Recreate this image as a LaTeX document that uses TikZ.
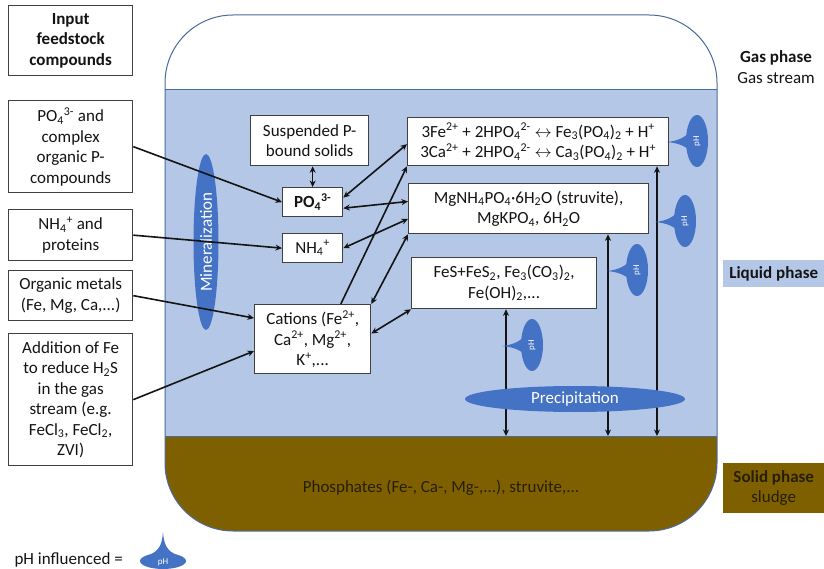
\documentclass[tikz,border=0pt]{standalone}
\usepackage{fontspec}
\setmainfont{Carlito}
\usetikzlibrary{arrows.meta,calc,shapes.geometric}

\definecolor{liquid}{HTML}{B4C7E7}
\definecolor{blob}{HTML}{4472C4}
\definecolor{sludge}{HTML}{7F6000}
\definecolor{rim}{HTML}{4A6A9C}
\definecolor{boxline}{HTML}{404040}
\definecolor{mud}{HTML}{262000}
\definecolor{ink}{HTML}{141414}

\newcommand{\bodyfont}{\fontsize{17}{20.5}\selectfont}
\newcommand{\up}[1]{\textsuperscript{#1}}
\newcommand{\dn}[1]{\textsubscript{#1}}

% pH marker: upright ellipse with a spike pointing left
\newcommand{\phleft}[3]{%
  \begin{scope}[shift={(#2,#3)}]
    \fill[blob] (-30,1) .. controls (-19,0) and (-10,-4) .. (-4,-13)
      -- (-4,13) .. controls (-10,5) and (-19,2) .. (-30,1) -- cycle;
    \fill[blob] (0,0) ellipse [x radius=11, y radius=26];
    \node[rotate=90, text=white, font=\fontsize{9}{10}\selectfont, inner sep=0pt] (#1) at (0,0) {pH};
  \end{scope}}

\tikzset{
  box/.style={draw=boxline, line width=1.3pt, fill=white, align=center,
    inner sep=2pt, anchor=north west, text=ink},
  arr/.style={draw=ink, line width=1.6pt, -{Stealth[length=6.5pt,width=6pt]}},
  dbl/.style={draw=ink, line width=1.6pt,
    {Stealth[length=6.5pt,width=6pt]}-{Stealth[length=6.5pt,width=6pt]}},
  blobnode/.style={ellipse, fill=blob, text=white, inner sep=0pt},
}

\begin{document}
\begin{tikzpicture}[x=1pt, y=-1pt, font=\bodyfont]
\useasboundingbox (0,0) rectangle (824,569);

% reactor vessel: gas, liquid and sludge layers
\begin{scope}
  \clip[rounded corners=68pt] (165,15) rectangle (717,531);
  \fill[white] (165,15) rectangle (717,90);
  \fill[liquid] (165,90) rectangle (717,436);
  \fill[sludge] (165,436) rectangle (717,531);
\end{scope}
\draw[rim, line width=1pt] (165,90) -- (717,90);
\draw[rim, line width=1pt] (165,436) -- (717,436);
\draw[rim, line width=1pt, rounded corners=68pt] (165,15) rectangle (717,531);

\node[text=mud] (sltxt) at (441,488) {Phosphates (Fe-, Ca-, Mg-,...), struvite,...};

% phase labels
\node[align=center, text=ink] (gaslab) at (776,67) {{\bfseries Gas phase}\\Gas stream};
\node[fill=liquid, minimum width=101, minimum height=27, anchor=north west,
  inner sep=0pt, text=ink, font=\bodyfont\bfseries] (liqlab) at (723,260) {Liquid phase};
\node[fill=sludge, minimum width=101, minimum height=50, anchor=north west,
  inner sep=0pt, align=center, text=mud] (sollab) at (723,463) {{\bfseries Solid phase}\\sludge};

% input feedstock column
\node[box, minimum width=124, minimum height=70, font=\bodyfont\bfseries] (feed) at (8,5) {Input\\feedstock\\compounds};
\node[box, minimum width=124, minimum height=92] (inP) at (8,100) {PO\dn{4}\up{3-} and\\complex\\organic P-\\compounds};
\node[box, minimum width=124, minimum height=51] (inN) at (8,209) {NH\dn{4}\up{+} and\\proteins};
\node[box, minimum width=124, minimum height=50] (inM) at (8,270) {Organic metals\\(Fe, Mg, Ca,...)};
\node[box, minimum width=124, minimum height=132] (inFe) at (8,333) {Addition of Fe\\to reduce H\dn{2}S\\in the gas\\stream (e.g.\\FeCl\dn{3}, FeCl\dn{2},\\ZVI)};

% mineralization band (behind the input arrows)
\node[blobnode, rotate=90, minimum width=176, minimum height=25] (minz) at (206,242) {Mineralization};

% species inside the liquid
\node[box, minimum width=118, minimum height=50] (susp) at (250,115) {Suspended P-\\bound solids};
\node[box, minimum width=60, minimum height=29, font=\bodyfont\bfseries] (po4) at (282,187) {PO\dn{4}\up{3-}};
\node[box, minimum width=60, minimum height=29] (nh4) at (282,233) {NH\dn{4}\up{+}};
\node[box, minimum width=116, minimum height=69] (cat) at (254,304) {Cations (Fe\up{2+},\\Ca\up{2+}, Mg\up{2+},\\K\up{+},...};
\node[box, minimum width=261, minimum height=48] (rxA) at (407,117)
  {3Fe\up{2+} + 2HPO\dn{4}\up{2-} $\leftrightarrow$ Fe\dn{3}(PO\dn{4})\dn{2} + H\up{+}\\
   3Ca\up{2+} + 2HPO\dn{4}\up{2-} $\leftrightarrow$ Ca\dn{3}(PO\dn{4})\dn{2} + H\up{+}};
\node[box, minimum width=240, minimum height=50] (struv) at (408,183)
  {MgNH\dn{4}PO\dn{4}\textperiodcentered 6H\dn{2}O (struvite),\\MgKPO\dn{4}, 6H\dn{2}O};
\node[box, minimum width=185, minimum height=51] (fes) at (411,257)
  {FeS+FeS\dn{2}, Fe\dn{3}(CO\dn{3})\dn{2},\\Fe(OH)\dn{2},...};

% inputs into the liquid
\draw[arr] (inP.east) -- (po4.west);
\draw[arr] (inN.east) -- (nh4.west);
\draw[arr] (inM.east) -- ($(cat.north west)!0.2!(cat.south west)$);
\draw[arr] (inFe.east) -- ($(cat.north west)!0.67!(cat.south west)$);

% exchanges between species
\draw[dbl] (po4.north) -- (po4.north |- susp.south);
\draw[dbl] ($(po4.north east)!0.35!(po4.south east)$) -- ($(rxA.north west)!0.55!(rxA.south west)$);
\draw[dbl] ($(po4.north east)!0.7!(po4.south east)$) -- ($(struv.north west)!0.36!(struv.south west)$);
\draw[dbl] (nh4.east) -- ($(struv.north west)!0.7!(struv.south west)$);
\draw[dbl] (cat.north east) -- (struv.south west);
\draw[dbl] ($(cat.north east)!0.42!(cat.south east)$) -- (fes.south west);
\draw[arr] ($(cat.north west)!0.74!(cat.north east)$) -- (rxA.south west);

% precipitation to the sludge
\coordinate (s1) at (506,436);
\coordinate (s2) at (608,436);
\coordinate (s3) at (657,436);
\draw[dbl] (s1) -- (s1 |- fes.south);
\draw[dbl] (s2) -- (s2 |- struv.south);
\draw[dbl] (s3) -- (s3 |- rxA.south);

\node[blobnode, minimum width=220, minimum height=26] (precip) at (575,399) {Precipitation};

% pH markers
\phleft{ph1}{697}{141}
\phleft{ph2}{685}{221}
\phleft{ph3}{637}{270}
\phleft{ph4}{532}{345}

% legend
\node[anchor=west, text=ink] (legtxt) at (11,560) {pH influenced =};
\fill[blob] (163,532) .. controls (164,545) and (167,551) .. (177,555)
  -- (149,555) .. controls (159,551) and (162,545) .. (163,532) -- cycle;
\fill[blob] (163,561) ellipse [x radius=23, y radius=8];
\node[text=white, font=\fontsize{9}{10}\selectfont, inner sep=0pt] (legph) at (163,562) {pH};
\end{tikzpicture}
\end{document}
